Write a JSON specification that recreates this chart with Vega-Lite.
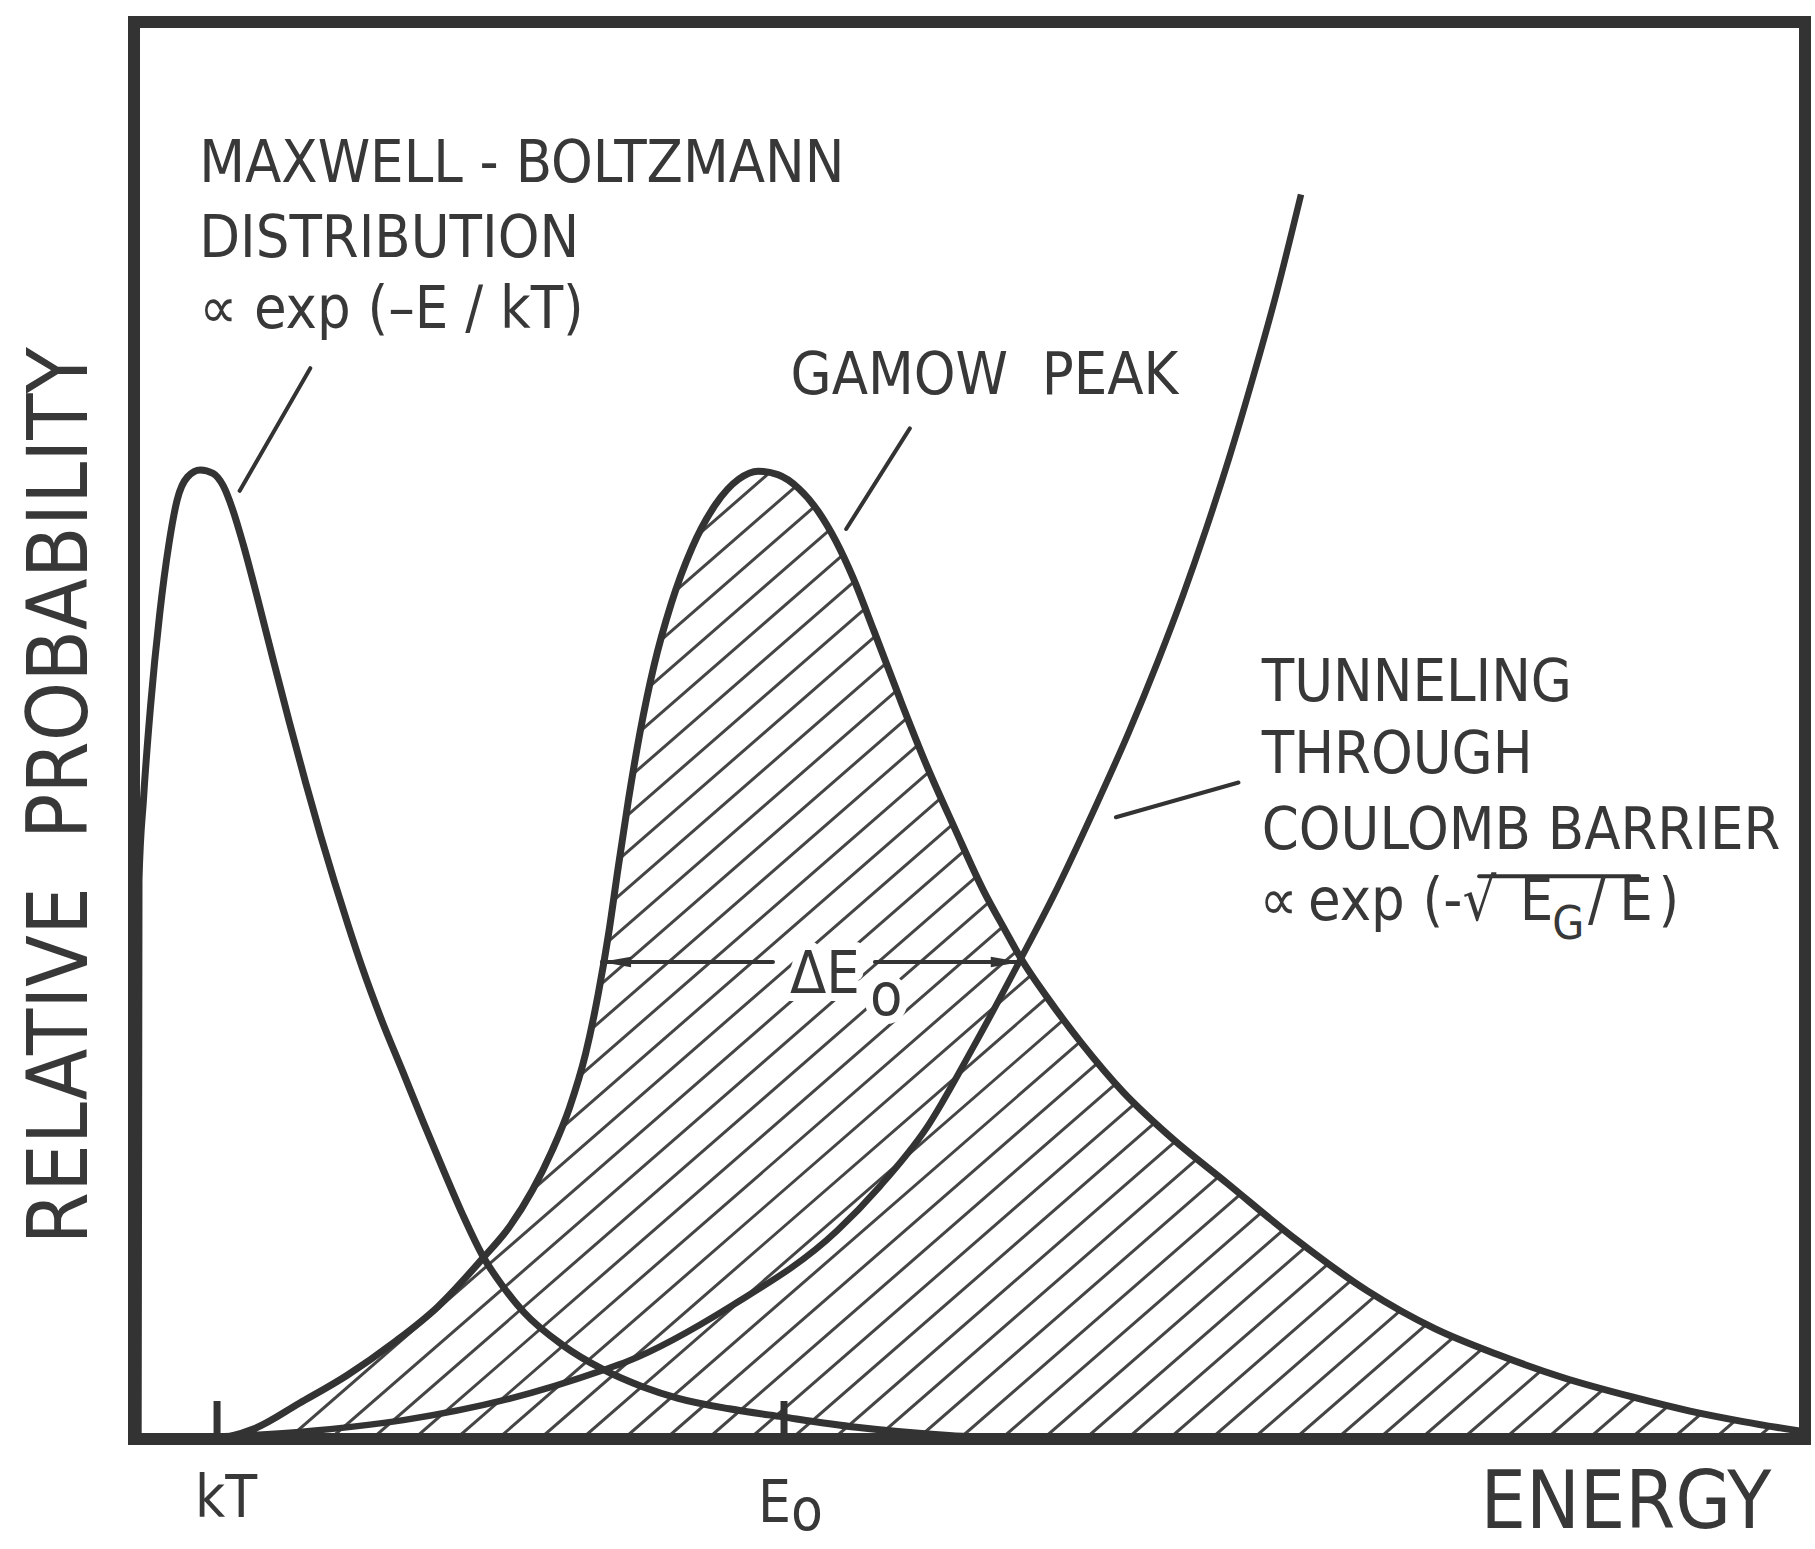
{
  "$schema": "https://vega.github.io/schema/vega-lite/v6.json",
  "width": 1671,
  "height": 1417,
  "padding": {"left": 134, "top": 22, "right": 10, "bottom": 110},
  "autosize": {"type": "none"},
  "background": "white",
  "config": {"view": {"stroke": null}},
  "datasets": {
    "mb": [
      {"x": 0.25, "y": 0}, {"x": 0.3, "y": 39.46}, {"x": 0.57, "y": 45.18}, {"x": 0.99, "y": 51.72},
      {"x": 1.54, "y": 58.25}, {"x": 2.09, "y": 63.16}, {"x": 2.58, "y": 66.26}, {"x": 3.2, "y": 67.89},
      {"x": 3.97, "y": 68.38}, {"x": 4.73, "y": 68.14}, {"x": 5.35, "y": 67.24}, {"x": 5.9, "y": 65.61},
      {"x": 6.53, "y": 63.16}, {"x": 7.36, "y": 59.48}, {"x": 8.33, "y": 54.99}, {"x": 9.3, "y": 50.58},
      {"x": 10.27, "y": 46.33}, {"x": 11.17, "y": 42.57}, {"x": 12.0, "y": 39.3}, {"x": 12.83, "y": 36.2},
      {"x": 13.66, "y": 33.26}, {"x": 14.84, "y": 29.5}, {"x": 16.09, "y": 25.91}, {"x": 17.33, "y": 22.31},
      {"x": 18.58, "y": 18.8}, {"x": 19.69, "y": 15.78}, {"x": 20.87, "y": 12.92}, {"x": 22.11, "y": 10.71},
      {"x": 23.36, "y": 8.91}, {"x": 25.65, "y": 6.63}, {"x": 28.07, "y": 4.91}, {"x": 30.43, "y": 3.69},
      {"x": 32.57, "y": 2.87}, {"x": 35.62, "y": 2.13}, {"x": 38.81, "y": 1.56}, {"x": 43.24, "y": 0.83},
      {"x": 48.78, "y": 0.25}, {"x": 54.32, "y": 0}
    ],
    "gamow": [
      {"x": 0, "y": 0}, {"x": 4.45, "y": 0}, {"x": 7.22, "y": 0.74}, {"x": 9.92, "y": 2.54},
      {"x": 12.76, "y": 4.5}, {"x": 15.53, "y": 6.79}, {"x": 18.17, "y": 9.32}, {"x": 20.87, "y": 12.75},
      {"x": 22.46, "y": 14.96}, {"x": 23.85, "y": 17.57}, {"x": 25.02, "y": 20.35}, {"x": 26.06, "y": 23.37},
      {"x": 27.03, "y": 27.21}, {"x": 27.79, "y": 31.46}, {"x": 28.42, "y": 35.79}, {"x": 28.97, "y": 40.28},
      {"x": 29.6, "y": 45.18}, {"x": 30.29, "y": 49.92}, {"x": 31.12, "y": 54.58}, {"x": 32.16, "y": 58.99},
      {"x": 33.4, "y": 62.91}, {"x": 34.79, "y": 65.93}, {"x": 36.18, "y": 67.73}, {"x": 37.35, "y": 68.3},
      {"x": 38.53, "y": 68.06}, {"x": 39.78, "y": 67.08}, {"x": 40.96, "y": 65.44}, {"x": 41.99, "y": 63.4},
      {"x": 43.03, "y": 60.79}, {"x": 44.28, "y": 57.03}, {"x": 45.87, "y": 52.13}, {"x": 47.4, "y": 47.63},
      {"x": 49.13, "y": 43.06}, {"x": 50.86, "y": 38.65}, {"x": 52.11, "y": 35.95}, {"x": 53.08, "y": 33.91},
      {"x": 54.67, "y": 31.13}, {"x": 56.75, "y": 27.87}, {"x": 59.17, "y": 24.52}, {"x": 61.94, "y": 21.41},
      {"x": 65.41, "y": 18.06}, {"x": 69.56, "y": 14.06}, {"x": 73.79, "y": 10.47}, {"x": 77.88, "y": 7.77},
      {"x": 81.76, "y": 5.89}, {"x": 85.5, "y": 4.34}, {"x": 89.72, "y": 2.95}, {"x": 93.12, "y": 1.97},
      {"x": 96.3, "y": 1.23}, {"x": 100, "y": 0.5}
    ],
    "tunnel": [
      {"x": 0.29, "y": 0}, {"x": 9.92, "y": 0.5}, {"x": 16.12, "y": 1.33}, {"x": 22.3, "y": 2.79},
      {"x": 28.07, "y": 4.86}, {"x": 29.51, "y": 5.47}, {"x": 35.69, "y": 9.35}, {"x": 42.08, "y": 14.7},
      {"x": 44.63, "y": 17.82}, {"x": 47.4, "y": 21.9}, {"x": 50.17, "y": 27.54}, {"x": 53.08, "y": 33.91},
      {"x": 55.02, "y": 38.32}, {"x": 57.44, "y": 44.37}, {"x": 59.52, "y": 49.84}, {"x": 61.25, "y": 54.82},
      {"x": 62.78, "y": 59.56}, {"x": 64.16, "y": 64.22}, {"x": 65.55, "y": 69.28}, {"x": 66.93, "y": 74.76},
      {"x": 68.32, "y": 80.64}, {"x": 69.84, "y": 87.83}
    ],
    "hatch": [
      {"x": -30.94, "y": 0, "x2": 66.53, "y2": 100}, {"x": -28.43, "y": 0, "x2": 69.04, "y2": 100},
      {"x": -25.92, "y": 0, "x2": 71.55, "y2": 100}, {"x": -23.41, "y": 0, "x2": 74.06, "y2": 100},
      {"x": -20.9, "y": 0, "x2": 76.57, "y2": 100}, {"x": -18.39, "y": 0, "x2": 79.08, "y2": 100},
      {"x": -15.88, "y": 0, "x2": 81.59, "y2": 100}, {"x": -13.37, "y": 0, "x2": 84.1, "y2": 100},
      {"x": -10.86, "y": 0, "x2": 86.61, "y2": 100}, {"x": -8.35, "y": 0, "x2": 89.12, "y2": 100},
      {"x": -5.84, "y": 0, "x2": 91.63, "y2": 100}, {"x": -3.33, "y": 0, "x2": 94.14, "y2": 100},
      {"x": -0.82, "y": 0, "x2": 96.65, "y2": 100}, {"x": 1.69, "y": 0, "x2": 99.16, "y2": 100},
      {"x": 4.2, "y": 0, "x2": 101.67, "y2": 100}, {"x": 6.71, "y": 0, "x2": 104.18, "y2": 100},
      {"x": 9.22, "y": 0, "x2": 106.69, "y2": 100}, {"x": 11.73, "y": 0, "x2": 109.2, "y2": 100},
      {"x": 14.24, "y": 0, "x2": 111.71, "y2": 100}, {"x": 16.75, "y": 0, "x2": 114.22, "y2": 100},
      {"x": 19.26, "y": 0, "x2": 116.73, "y2": 100}, {"x": 21.77, "y": 0, "x2": 119.24, "y2": 100},
      {"x": 24.28, "y": 0, "x2": 121.75, "y2": 100}, {"x": 26.79, "y": 0, "x2": 124.26, "y2": 100},
      {"x": 29.3, "y": 0, "x2": 126.77, "y2": 100}, {"x": 31.81, "y": 0, "x2": 129.28, "y2": 100},
      {"x": 34.32, "y": 0, "x2": 131.79, "y2": 100}, {"x": 36.83, "y": 0, "x2": 134.3, "y2": 100},
      {"x": 39.34, "y": 0, "x2": 136.81, "y2": 100}, {"x": 41.85, "y": 0, "x2": 139.32, "y2": 100},
      {"x": 44.36, "y": 0, "x2": 141.83, "y2": 100}, {"x": 46.87, "y": 0, "x2": 144.34, "y2": 100},
      {"x": 49.38, "y": 0, "x2": 146.85, "y2": 100}, {"x": 51.89, "y": 0, "x2": 149.36, "y2": 100},
      {"x": 54.4, "y": 0, "x2": 151.87, "y2": 100}, {"x": 56.91, "y": 0, "x2": 154.38, "y2": 100},
      {"x": 59.42, "y": 0, "x2": 156.89, "y2": 100}, {"x": 61.93, "y": 0, "x2": 159.4, "y2": 100},
      {"x": 64.44, "y": 0, "x2": 161.91, "y2": 100}, {"x": 66.95, "y": 0, "x2": 164.42, "y2": 100},
      {"x": 69.46, "y": 0, "x2": 166.93, "y2": 100}, {"x": 71.97, "y": 0, "x2": 169.44, "y2": 100},
      {"x": 74.48, "y": 0, "x2": 171.95, "y2": 100}, {"x": 76.99, "y": 0, "x2": 174.46, "y2": 100},
      {"x": 79.5, "y": 0, "x2": 176.97, "y2": 100}, {"x": 82.01, "y": 0, "x2": 179.48, "y2": 100},
      {"x": 84.52, "y": 0, "x2": 181.99, "y2": 100}, {"x": 87.03, "y": 0, "x2": 184.5, "y2": 100},
      {"x": 89.54, "y": 0, "x2": 187.01, "y2": 100}, {"x": 92.05, "y": 0, "x2": 189.52, "y2": 100},
      {"x": 94.56, "y": 0, "x2": 192.03, "y2": 100}, {"x": 97.07, "y": 0, "x2": 194.54, "y2": 100},
      {"x": 99.58, "y": 0, "x2": 197.05, "y2": 100}
    ],
    "segs": [
      {"x": 6.32, "y": 66.91, "x2": 10.55, "y2": 75.57, "kind": "leader"},
      {"x": 42.62, "y": 64.22, "x2": 46.43, "y2": 71.32, "kind": "leader"},
      {"x": 58.76, "y": 43.88, "x2": 66.1, "y2": 46.33, "kind": "leader"},
      {"x": 28.0, "y": 33.66, "x2": 38.24, "y2": 33.66, "kind": "leader"},
      {"x": 44.34, "y": 33.66, "x2": 53.02, "y2": 33.66, "kind": "leader"},
      {"x": 80.5, "y": 39.71, "x2": 90.07, "y2": 39.71, "kind": "leader"},
      {"x": 4.97, "y": 0, "x2": 4.97, "y2": 2.68, "kind": "tick"},
      {"x": 38.9, "y": 0, "x2": 38.9, "y2": 2.68, "kind": "tick"},
      {"x": 0, "y": 0, "x2": 100, "y2": 0, "kind": "frame"},
      {"x": 0, "y": 100, "x2": 100, "y2": 100, "kind": "frame"},
      {"x": 0, "y": 0, "x2": 0, "y2": 100, "kind": "frame"},
      {"x": 100, "y": 0, "x2": 100, "y2": 100, "kind": "frame"}
    ],
    "arrows": [
      {"x": 28.85, "y": 33.66, "dir": "L"},
      {"x": 52.17, "y": 33.66, "dir": "R"}
    ],
    "texts": [
      {"label": "MAXWELL - BOLTZMANN", "x": 3.9, "y": 88.72, "role": "note"},
      {"label": "DISTRIBUTION", "x": 3.9, "y": 83.41, "role": "note"},
      {"label": "∝ exp (–E / kT)", "x": 3.9, "y": 78.43, "role": "note"},
      {"label": "GAMOW\u00a0 PEAK", "x": 39.29, "y": 73.78, "role": "note"},
      {"label": "TUNNELING", "x": 67.49, "y": 52.05, "role": "note"},
      {"label": "THROUGH", "x": 67.49, "y": 46.98, "role": "note"},
      {"label": "COULOMB BARRIER", "x": 67.49, "y": 41.67, "role": "note"},
      {"label": "∝", "x": 67.35, "y": 36.61, "role": "note"},
      {"label": "exp", "x": 70.26, "y": 36.61, "role": "note"},
      {"label": "(-√", "x": 77.11, "y": 36.61, "role": "note"},
      {"label": "E", "x": 82.93, "y": 36.61, "role": "note"},
      {"label": "G", "x": 84.87, "y": 35.3, "role": "sub"},
      {"label": "/", "x": 87.02, "y": 36.61, "role": "note"},
      {"label": "E", "x": 88.89, "y": 36.61, "role": "note"},
      {"label": ")", "x": 91.24, "y": 36.61, "role": "note"},
      {"label": "ΔE", "x": 39.26, "y": 31.48, "role": "delta"},
      {"label": "o", "x": 44.05, "y": 29.92, "role": "delta"},
      {"label": "kT", "x": 3.65, "y": -5.5, "role": "tick"},
      {"label": "E", "x": 37.34, "y": -5.86, "role": "tick"},
      {"label": "o", "x": 39.32, "y": -6.42, "role": "tick"},
      {"label": "ENERGY", "x": 97.97, "y": -6.28, "role": "xtitle"},
      {"label": "RELATIVE\u00a0 PROBABILITY", "x": -4.28, "y": 45.38, "role": "ytitle"}
    ]
  },
  "encoding": {
    "x": {"field": "x", "type": "quantitative", "scale": {"domain": [0, 100], "nice": false, "zero": false}, "axis": null},
    "y": {"field": "y", "type": "quantitative", "scale": {"domain": [0, 100], "nice": false, "zero": false}, "axis": null}
  },
  "layer": [
    {
      "data": {"name": "hatch"},
      "mark": {"type": "rule", "clip": true, "stroke": "#454545", "strokeWidth": 3},
      "encoding": {"x2": {"field": "x2"}, "y2": {"field": "y2"}}
    },
    {
      "data": {"name": "gamow"},
      "mark": {"type": "area", "clip": true, "fill": "white", "interpolate": "monotone", "opacity": 1},
      "encoding": {"y2": {"datum": 100}}
    },
    {
      "data": {"name": "texts"},
      "transform": [{"filter": "datum.role === 'delta'"}],
      "mark": {"type": "text", "align": "left", "baseline": "alphabetic", "fontSize": 59, "font": "Liberation Sans Narrow, DejaVu Sans Condensed, Roboto, sans-serif", "color": "white", "stroke": "white", "strokeWidth": 16, "strokeJoin": "round"},
      "encoding": {"text": {"field": "label"}}
    },
    {
      "data": {"name": "mb"},
      "mark": {"type": "line", "stroke": "#333333", "strokeWidth": 7, "interpolate": "monotone", "clip": true}
    },
    {
      "data": {"name": "tunnel"},
      "mark": {"type": "line", "stroke": "#333333", "strokeWidth": 6.5, "interpolate": "monotone", "clip": true}
    },
    {
      "data": {"name": "gamow"},
      "mark": {"type": "line", "stroke": "#333333", "strokeWidth": 7, "interpolate": "monotone", "clip": true}
    },
    {
      "data": {"name": "segs"},
      "transform": [{"filter": "datum.kind === 'leader'"}],
      "mark": {"type": "rule", "stroke": "#333333", "strokeWidth": 4, "strokeCap": "round"},
      "encoding": {"x2": {"field": "x2"}, "y2": {"field": "y2"}}
    },
    {
      "data": {"name": "segs"},
      "transform": [{"filter": "datum.kind === 'tick'"}],
      "mark": {"type": "rule", "stroke": "#333333", "strokeWidth": 7},
      "encoding": {"x2": {"field": "x2"}, "y2": {"field": "y2"}}
    },
    {
      "data": {"name": "segs"},
      "transform": [{"filter": "datum.kind === 'frame'"}],
      "mark": {"type": "rule", "stroke": "#333333", "strokeWidth": 12, "strokeCap": "square"},
      "encoding": {"x2": {"field": "x2"}, "y2": {"field": "y2"}}
    },
    {
      "data": {"name": "arrows"},
      "mark": {"type": "point", "filled": true, "color": "#333333", "size": 900, "opacity": 1},
      "encoding": {
        "shape": {"field": "dir", "type": "nominal", "legend": null,
          "scale": {"domain": ["L", "R"], "range": ["M-1,0L1,-0.35L1,0.35Z", "M1,0L-1,-0.35L-1,0.35Z"]}}
      }
    },
    {
      "data": {"name": "texts"},
      "transform": [{"filter": "datum.role === 'note' || datum.role === 'delta'"}],
      "mark": {"type": "text", "align": "left", "baseline": "alphabetic", "fontSize": 59, "font": "Liberation Sans Narrow, DejaVu Sans Condensed, Roboto, sans-serif", "color": "#383838"},
      "encoding": {"text": {"field": "label"}}
    },
    {
      "data": {"name": "texts"},
      "transform": [{"filter": "datum.role === 'sub'"}],
      "mark": {"type": "text", "align": "left", "baseline": "alphabetic", "fontSize": 46, "font": "Liberation Sans Narrow, DejaVu Sans Condensed, Roboto, sans-serif", "color": "#383838"},
      "encoding": {"text": {"field": "label"}}
    },
    {
      "data": {"name": "texts"},
      "transform": [{"filter": "datum.role === 'tick'"}],
      "mark": {"type": "text", "align": "left", "baseline": "alphabetic", "fontSize": 58, "font": "Liberation Sans Narrow, DejaVu Sans Condensed, Roboto, sans-serif", "color": "#383838"},
      "encoding": {"text": {"field": "label"}}
    },
    {
      "data": {"name": "texts"},
      "transform": [{"filter": "datum.role === 'xtitle'"}],
      "mark": {"type": "text", "align": "right", "baseline": "alphabetic", "fontSize": 80, "font": "Liberation Sans Narrow, DejaVu Sans Condensed, Roboto, sans-serif", "color": "#383838"},
      "encoding": {"text": {"field": "label"}}
    },
    {
      "data": {"name": "texts"},
      "transform": [{"filter": "datum.role === 'ytitle'"}],
      "mark": {"type": "text", "align": "center", "baseline": "middle", "angle": 270, "fontSize": 84, "font": "Liberation Sans Narrow, DejaVu Sans Condensed, Roboto, sans-serif", "color": "#383838"},
      "encoding": {"text": {"field": "label"}}
    }
  ]
}
